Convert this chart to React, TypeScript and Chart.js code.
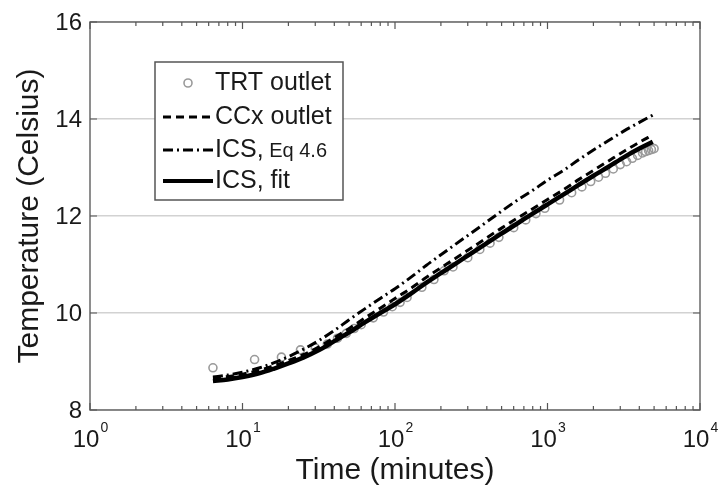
import React, { useEffect, useRef } from "react";
import { Chart, registerables } from "chart.js";

Chart.register(...registerables);

// ---- data ----
const modelTime = [6.4, 8, 10, 13, 16, 20, 25, 32, 40, 50, 63, 80, 100, 130, 160, 200, 250, 320, 400, 500, 630, 800, 1000, 1300, 1600, 2000, 2500, 3200, 4000, 4900];
const icsFit = [8.6, 8.63, 8.68, 8.76, 8.85, 8.96, 9.08, 9.24, 9.42, 9.6, 9.8, 10.0, 10.18, 10.42, 10.62, 10.82, 11.02, 11.24, 11.44, 11.64, 11.84, 12.05, 12.24, 12.46, 12.64, 12.83, 13.01, 13.22, 13.39, 13.53];
const ccxOutlet = [8.66, 8.69, 8.74, 8.82, 8.91, 9.02, 9.14, 9.31, 9.49, 9.68, 9.89, 10.1, 10.3, 10.53, 10.73, 10.93, 11.13, 11.35, 11.55, 11.75, 11.95, 12.15, 12.34, 12.56, 12.75, 12.94, 13.13, 13.34, 13.52, 13.67];
const icsEq46 = [8.68, 8.72, 8.78, 8.87, 8.97, 9.1, 9.25, 9.44, 9.64, 9.86, 10.08, 10.3, 10.5, 10.76, 10.98, 11.2, 11.42, 11.66, 11.88, 12.1, 12.32, 12.53, 12.74, 12.96, 13.16, 13.36, 13.55, 13.76, 13.93, 14.08];

const trtTime = [6.4, 12, 18, 24, 30, 36, 42, 48, 54, 60, 72, 84, 96, 108, 120, 150, 180, 210, 240, 300, 360, 420, 480, 600, 720, 840, 960, 1200, 1440, 1680, 1920, 2160, 2400, 2700, 3000, 3300, 3600, 3900, 4200, 4400, 4600, 4800, 5000];
const trtOutlet = [8.87, 9.04, 9.09, 9.24, 9.28, 9.36, 9.48, 9.58, 9.68, 9.76, 9.9, 10.02, 10.13, 10.22, 10.32, 10.53, 10.69, 10.87, 10.95, 11.14, 11.31, 11.44, 11.56, 11.76, 11.92, 12.05, 12.16, 12.33, 12.48, 12.6, 12.71, 12.8, 12.88, 12.97, 13.06, 13.12, 13.19, 13.25, 13.3, 13.33, 13.35, 13.37, 13.39];

const xTickValues = [1, 10, 100, 1000, 10000];
const xTickBase = "10";
const xTickExps = ["0", "1", "2", "3", "4"];
const yTickValues = [8, 10, 12, 14, 16];
const minorMultipliers = [2, 3, 4, 5, 6, 7, 8, 9];

const xTitle = "Time (minutes)";
const yTitle = "Temperature (Celsius)";
const legendLabels = ["TRT outlet", "CCx outlet", "ICS,", "ICS, fit"];
const legendSmall = " Eq 4.6";

const FONT = '"Liberation Sans", Arial, sans-serif';
const TEXT = "#1a1a1a";

const DASH = [8, 5];
const DASHDOT = [10, 4, 2, 4];

const decor = {
  id: "decor",
  afterDraw(chart: any) {
    const { ctx, chartArea, scales } = chart;
    const { left, right, top, bottom } = chartArea;
    const x = scales.x;
    const y = scales.y;
    ctx.save();

    // axes box
    ctx.strokeStyle = "#6a6a6a";
    ctx.lineWidth = 1.5;
    ctx.setLineDash([]);
    ctx.strokeRect(left, top, right - left, bottom - top);

    // x ticks (inward, bottom and top)
    ctx.lineWidth = 1.2;
    ctx.strokeStyle = "#555";
    for (let k = 0; k < xTickValues.length; k++) {
      const base = xTickValues[k];
      const px = x.getPixelForValue(base);
      ctx.beginPath();
      ctx.moveTo(px, bottom); ctx.lineTo(px, bottom - 7);
      ctx.moveTo(px, top); ctx.lineTo(px, top + 7);
      ctx.stroke();
      if (k < xTickValues.length - 1) {
        for (const m of minorMultipliers) {
          const mx = x.getPixelForValue(base * m);
          ctx.beginPath();
          ctx.moveTo(mx, bottom); ctx.lineTo(mx, bottom - 4);
          ctx.moveTo(mx, top); ctx.lineTo(mx, top + 4);
          ctx.stroke();
        }
      }
    }
    // y ticks
    for (const v of yTickValues) {
      const py = y.getPixelForValue(v);
      ctx.beginPath();
      ctx.moveTo(left, py); ctx.lineTo(left + 7, py);
      ctx.moveTo(right, py); ctx.lineTo(right - 7, py);
      ctx.stroke();
    }

    // y tick labels
    ctx.fillStyle = TEXT;
    ctx.font = `24px ${FONT}`;
    ctx.textAlign = "right";
    ctx.textBaseline = "middle";
    for (const v of yTickValues) {
      ctx.fillText(String(v), left - 8, y.getPixelForValue(v) + 1);
    }

    // x tick labels 10^k
    ctx.textAlign = "left";
    ctx.textBaseline = "alphabetic";
    for (let k = 0; k < xTickValues.length; k++) {
      const px = x.getPixelForValue(xTickValues[k]);
      ctx.font = `24px ${FONT}`;
      const wb = ctx.measureText(xTickBase).width;
      ctx.font = `14px ${FONT}`;
      const we = ctx.measureText(xTickExps[k]).width;
      const start = px - (wb + we) / 2;
      ctx.font = `24px ${FONT}`;
      ctx.fillText(xTickBase, start, 447);
      ctx.font = `14px ${FONT}`;
      ctx.fillText(xTickExps[k], start + wb + 1, 432);
    }

    // titles
    ctx.font = `30px ${FONT}`;
    ctx.textAlign = "center";
    ctx.textBaseline = "middle";
    ctx.fillText(xTitle, (left + right) / 2, 471);
    ctx.save();
    ctx.translate(30, (top + bottom) / 2);
    ctx.rotate(-Math.PI / 2);
    ctx.fillText(yTitle, 0, 0);
    ctx.restore();

    // legend
    const lx = 155, ly = 62, lw = 188, lh = 138;
    ctx.fillStyle = "#ffffff";
    ctx.fillRect(lx, ly, lw, lh);
    ctx.strokeStyle = "#555";
    ctx.lineWidth = 1.5;
    ctx.strokeRect(lx, ly, lw, lh);
    const rows = [83, 117, 150, 181];
    const x0 = 163, x1 = 213, tx = 215;
    // TRT marker
    ctx.beginPath();
    ctx.arc(188, rows[0], 4, 0, Math.PI * 2);
    ctx.strokeStyle = "#9a9a9a";
    ctx.lineWidth = 1.6;
    ctx.stroke();
    // CCx dashed
    ctx.strokeStyle = "#000";
    ctx.lineWidth = 3;
    ctx.setLineDash(DASH);
    ctx.beginPath(); ctx.moveTo(x0, rows[1]); ctx.lineTo(x1, rows[1]); ctx.stroke();
    // ICS dash-dot
    ctx.setLineDash(DASHDOT);
    ctx.beginPath(); ctx.moveTo(x0, rows[2]); ctx.lineTo(x1, rows[2]); ctx.stroke();
    // ICS fit solid
    ctx.setLineDash([]);
    ctx.lineWidth = 4;
    ctx.beginPath(); ctx.moveTo(x0, rows[3]); ctx.lineTo(x1, rows[3]); ctx.stroke();

    ctx.fillStyle = TEXT;
    ctx.textAlign = "left";
    ctx.textBaseline = "middle";
    ctx.font = `25px ${FONT}`;
    ctx.fillText(legendLabels[0], tx, rows[0]);
    ctx.fillText(legendLabels[1], tx, rows[1]);
    ctx.fillText(legendLabels[2], tx, rows[2]);
    const wIcs = ctx.measureText(legendLabels[2]).width;
    ctx.fillText(legendLabels[3], tx, rows[3]);
    ctx.font = `20px ${FONT}`;
    ctx.fillText(legendSmall, tx + wIcs, rows[2] + 1);

    ctx.restore();
  },
};

export default function App() {
  const ref = useRef<HTMLCanvasElement | null>(null);
  useEffect(() => {
    if (!ref.current) return;
    const mk = (xs: number[], ys: number[]) => xs.map((t, i) => ({ x: t, y: ys[i] }));
    const chart = new Chart(ref.current, {
      type: "line",
      data: {
        datasets: [
          {
            label: "ICS, fit",
            data: mk(modelTime, icsFit),
            borderColor: "#000",
            borderWidth: 4.5,
            pointRadius: 0,
            cubicInterpolationMode: "monotone",
            order: 1,
          },
          {
            label: "CCx outlet",
            data: mk(modelTime, ccxOutlet),
            borderColor: "#000",
            borderWidth: 3,
            borderDash: DASH,
            pointRadius: 0,
            cubicInterpolationMode: "monotone",
            order: 2,
          },
          {
            label: "ICS, Eq 4.6",
            data: mk(modelTime, icsEq46),
            borderColor: "#000",
            borderWidth: 3,
            borderDash: DASHDOT,
            pointRadius: 0,
            cubicInterpolationMode: "monotone",
            order: 3,
          },
          {
            label: "TRT outlet",
            data: mk(trtTime, trtOutlet),
            showLine: false,
            borderColor: "#9a9a9a",
            backgroundColor: "rgba(0,0,0,0)",
            pointRadius: 4,
            pointBorderWidth: 1.6,
            pointStyle: "circle",
            order: 4,
          },
        ] as any,
      },
      options: {
        responsive: false,
        animation: false,
        events: [],
        layout: { padding: { top: 22, right: 20, left: 0, bottom: 0 } },
        plugins: { legend: { display: false }, tooltip: { enabled: false }, title: { display: false } },
        scales: {
          x: {
            type: "logarithmic",
            min: 1,
            max: 10000,
            grid: { display: false, drawTicks: false },
            border: { display: false },
            ticks: { display: false },
            afterFit: (s: any) => { s.height = 81; },
          },
          y: {
            type: "linear",
            min: 8,
            max: 16,
            grid: { color: "#d2d2d2", lineWidth: 1.5, drawTicks: false },
            border: { display: false },
            ticks: { display: false, stepSize: 2 },
            afterFit: (s: any) => { s.width = 90; },
          },
        },
      } as any,
      plugins: [decor],
    });
    return () => chart.destroy();
  }, []);
  return (
    <div style={{ position: "absolute", left: 0, top: 0, width: 720, height: 491, background: "#fff" }}>
      <canvas ref={ref} width={720} height={491} style={{ display: "block" }} />
    </div>
  );
}
